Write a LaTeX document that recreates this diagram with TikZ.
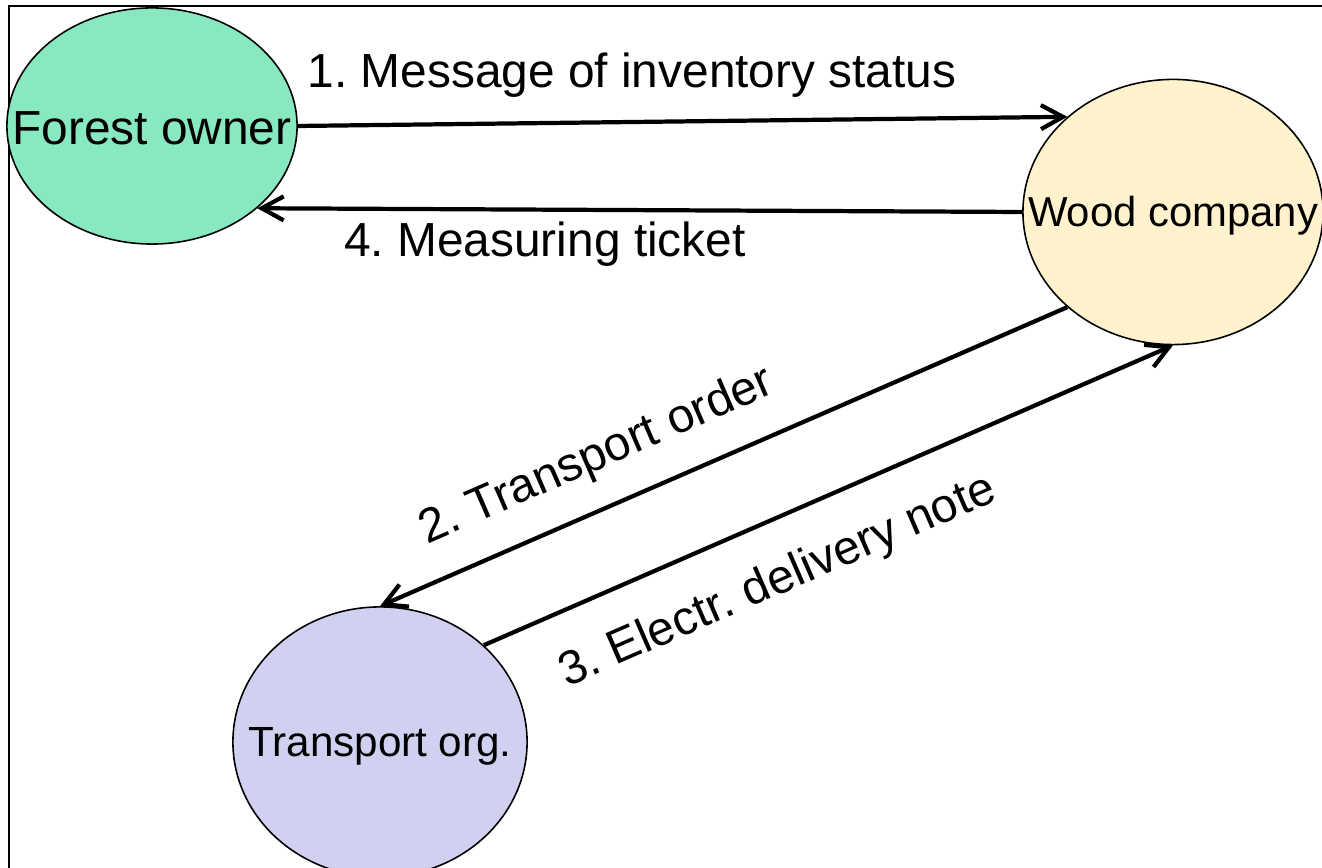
\documentclass[tikz,border=0pt]{standalone}
\usepackage{fontspec}
\setmainfont{Liberation Sans}
\usetikzlibrary{arrows.meta,shapes.geometric,positioning}

\definecolor{ownergreen}{RGB}{136,232,192}
\definecolor{companyyellow}{RGB}{255,242,204}
\definecolor{transportblue}{RGB}{208,208,240}

\begin{document}
\frenchspacing
\begin{tikzpicture}[x=0.01cm,y=-0.01cm,->,>={Straight Barb[length=2.2mm,width=2.4mm]},
                    line width=1.2pt]
  \tikzstyle{actor}=[ellipse,draw=black,line width=0.45pt,inner sep=0pt,label distance=0pt]
  \tikzstyle{msg}=[font=\fontsize{13.6}{16}\selectfont]

  \useasboundingbox (0,0) rectangle (1322,868);
  \draw[-,line width=0.6pt] (9,900) -- (9,6) -- (1400,6);

  \node[actor,fill=ownergreen,minimum width=2.9cm,minimum height=2.36cm,
        label={[font=\fontsize{13.6}{16}\selectfont,yshift=-0.02cm]center:Forest owner}] (fo) at (152,126) {};
  \node[actor,fill=companyyellow,minimum width=3.0cm,minimum height=2.65cm,
        label={[font=\fontsize{11.9}{14}\selectfont,yshift=-0.04cm]center:Wood company}] (wc) at (1173,212) {};
  \node[actor,fill=transportblue,minimum width=2.94cm,minimum height=2.7cm,
        label={[font=\fontsize{12}{14}\selectfont,yshift=-0.04cm]center:Transport org.}] (tr) at (380,742) {};

  \path (fo.east) edge (wc.138)
        (wc.west) edge (fo.-38)
        (wc.222)  edge (tr.north)
        (tr.43)   edge (wc.south);

  \node[msg] (m1) at (632,75) {1. Message of inventory status};
  \node[msg] (m4) at (545,244) {4. Measuring ticket};
  \node[msg,rotate=23.5] (m2) at (597,457) {2. Transport order};
  \node[msg,rotate=23.5] (m3) at (778,582) {3. Electr. delivery note};
\end{tikzpicture}
\end{document}
